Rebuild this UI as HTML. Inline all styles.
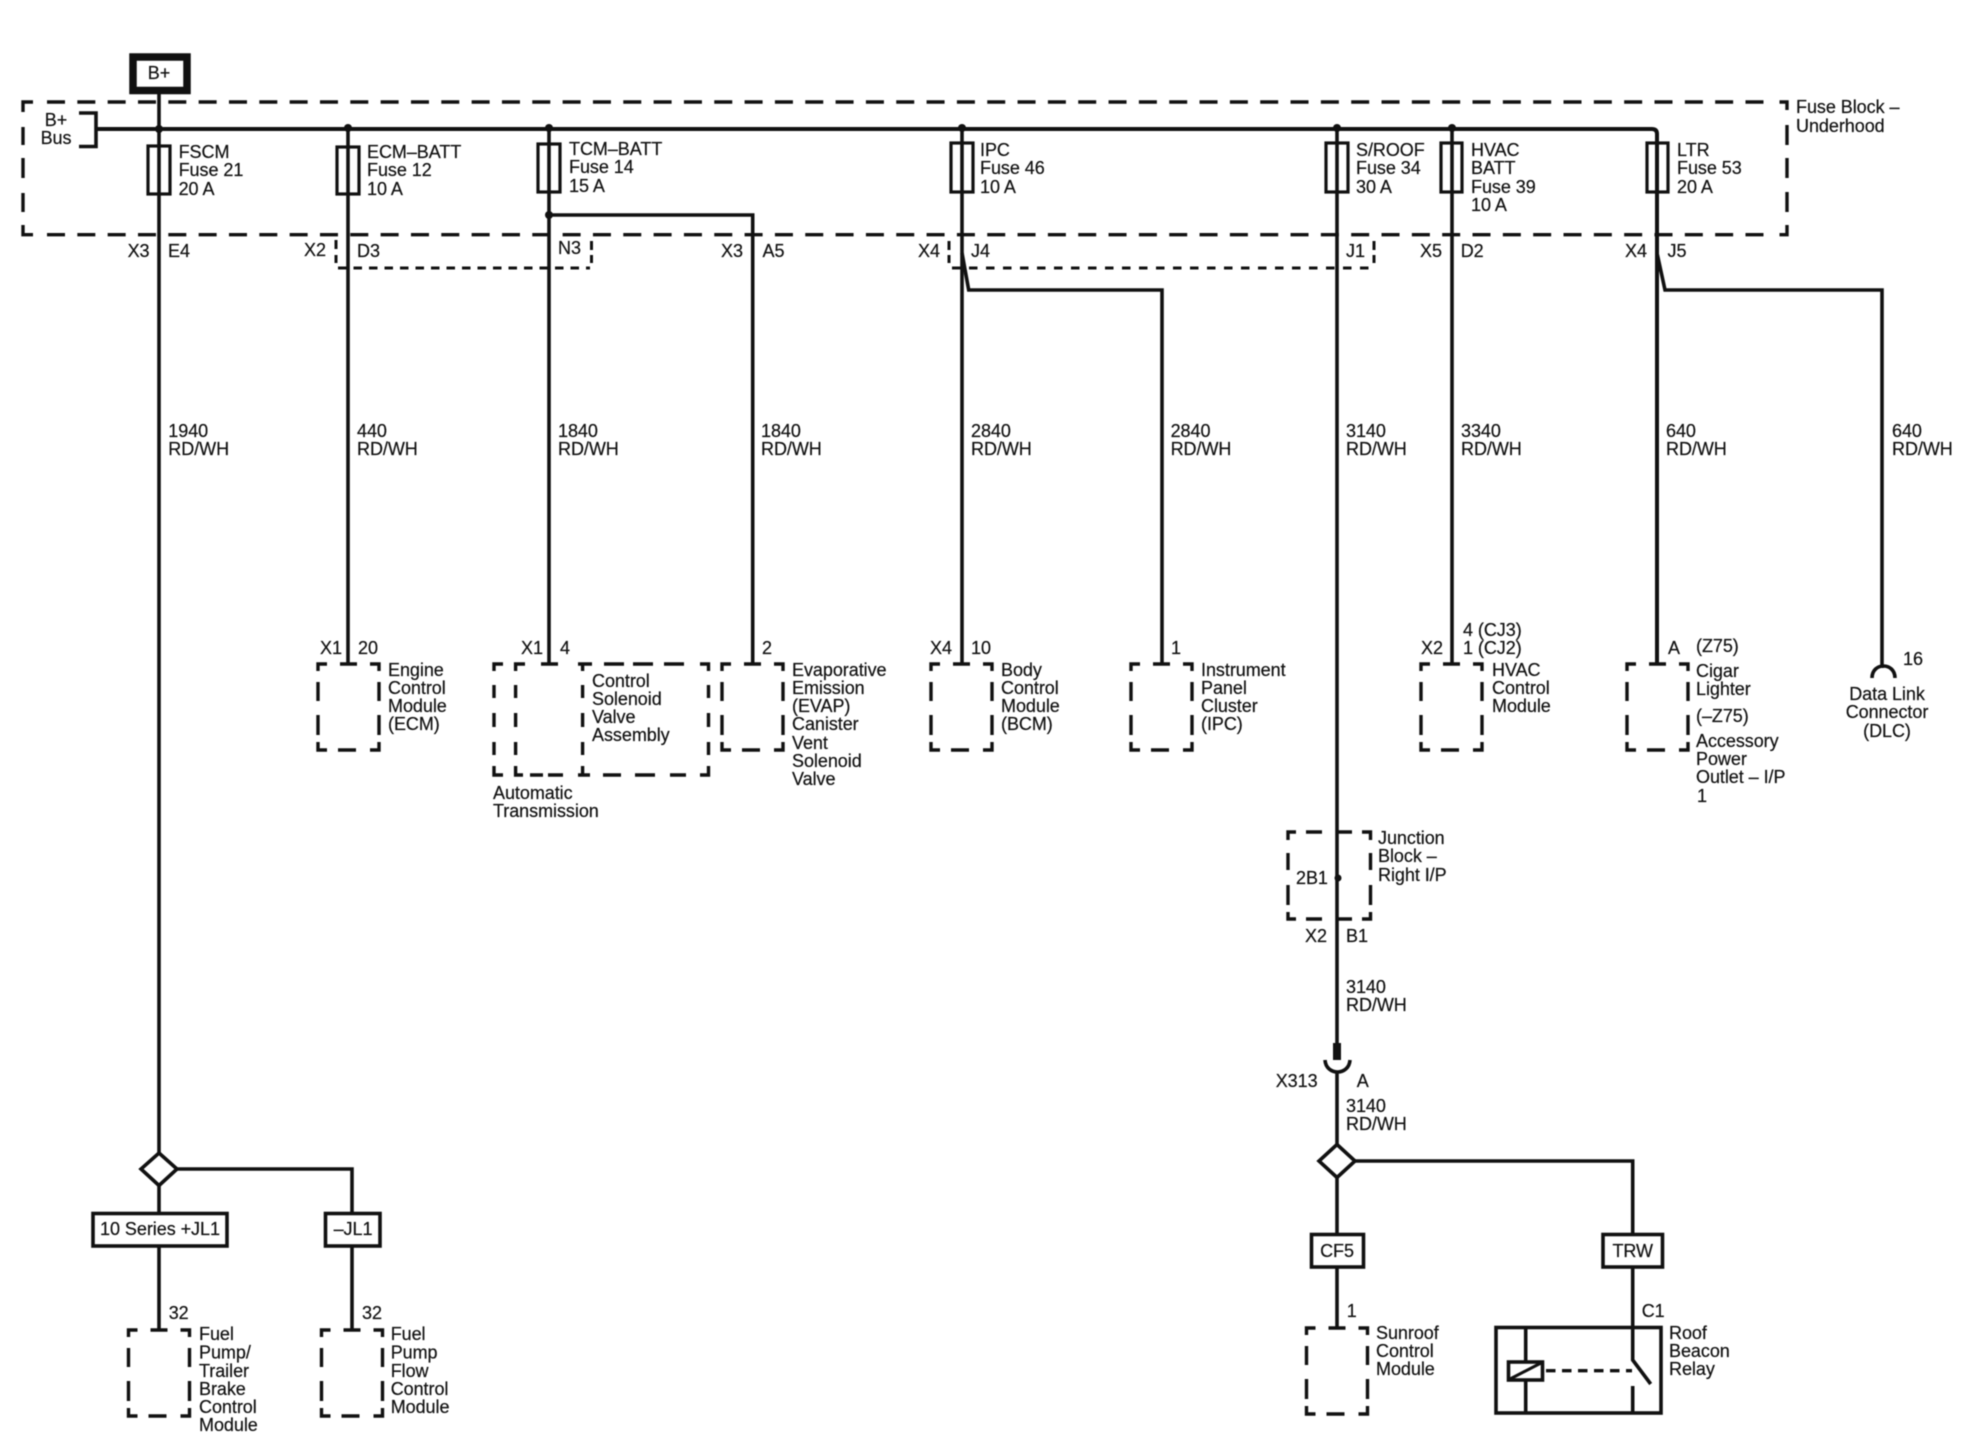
<!DOCTYPE html>
<html>
<head>
<meta charset="utf-8">
<style>
html,body{margin:0;padding:0;background:#fff;width:1970px;height:1446px;overflow:hidden}
svg{display:block;filter:blur(0.6px)}
text{font-family:"Liberation Sans",Arial,sans-serif;font-size:18px;fill:#111;stroke:#111;stroke-width:0.2px;letter-spacing:-0.05px}
.w{fill:none;stroke:#111;stroke-width:3.6}
.t{fill:none;stroke:#111;stroke-width:3}
.d{fill:none;stroke:#111;stroke-width:3.4}
.s{fill:none;stroke:#111;stroke-width:3}
.f{fill:none;stroke:#111;stroke-width:3.2}
</style>
</head>
<body>
<svg width="1970" height="1446" viewBox="0 0 1970 1446" xmlns="http://www.w3.org/2000/svg">
<defs>
<g id="box">
<path class="d" d="M1,8V1H10M53,1H62V8M1,79V87H10M53,87H62V79M21,87H39M1,19V38M1,52V72M62,19V38M62,52V72M23,1H40"/>
</g>
</defs>

<!-- B+ box -->
<rect x="133" y="57" width="54" height="33.5" fill="none" stroke="#111" stroke-width="7.5"/>
<text x="159" y="79" text-anchor="middle">B+</text>

<!-- Fuse block dashed -->
<path class="d" d="M23,112V102H33M1779.5,102H1787V110M23,225V234.7H33M1779.5,234.7H1787V225"/>
<path class="d" stroke-dasharray="18 12.33" d="M47,102H1775"/>
<path class="d" stroke-dasharray="18 12.33" d="M47,234.7H1775"/>
<path class="d" d="M23,127V145M23,158V178M23,193V212M1787,125V145M1787,158V178M1787,192V212"/>

<!-- B+ Bus bracket -->
<path class="w" d="M79,113H96V146.5H79"/>
<text x="56" y="126" text-anchor="middle">B+</text>
<text x="56" y="144" text-anchor="middle">Bus</text>

<!-- Bus + main wires -->
<path d="M96,129H1652Q1657,129 1657,134V663" fill="none" stroke="#111" stroke-width="4"/>
<path class="w" d="M159,94V1153"/>
<path class="w" d="M348,129V663"/>
<path class="w" d="M549,129V663"/>
<path class="w" d="M962,129V663"/>
<path class="w" d="M1337,129V1043"/>
<path class="w" d="M1452,129V663"/>
<g fill="#111">
<circle cx="159" cy="129" r="4"/><circle cx="348" cy="128" r="4"/><circle cx="549" cy="128" r="4"/>
<circle cx="962" cy="128" r="4"/><circle cx="1337" cy="128" r="4"/><circle cx="1452" cy="128" r="4"/>
<circle cx="549" cy="215" r="4"/>
</g>

<!-- Branches -->
<path class="w" d="M549,215H752.7V663"/>
<path class="w" d="M962,253L968.7,290H1162V663"/>
<path class="w" d="M1657,253L1665,290H1882V668"/>

<!-- Fuses -->
<rect class="f" x="148" y="146" width="22" height="48"/>
<rect class="f" x="337" y="147" width="22" height="47"/>
<rect class="f" x="538" y="144" width="22" height="48"/>
<rect class="f" x="951" y="143" width="22" height="49"/>
<rect class="f" x="1326" y="143" width="22" height="49"/>
<rect class="f" x="1441" y="143" width="21" height="49"/>
<rect class="f" x="1647" y="143" width="21" height="49"/>

<!-- Fuse labels -->
<text x="178.6" y="158">FSCM</text><text x="178.6" y="176">Fuse 21</text><text x="178.6" y="195">20 A</text>
<text x="367" y="158">ECM–BATT</text><text x="367" y="176">Fuse 12</text><text x="367" y="195">10 A</text>
<text x="569" y="155">TCM–BATT</text><text x="569" y="173">Fuse 14</text><text x="569" y="192">15 A</text>
<text x="980" y="156">IPC</text><text x="980" y="174">Fuse 46</text><text x="980" y="193">10 A</text>
<text x="1356" y="156">S/ROOF</text><text x="1356" y="174">Fuse 34</text><text x="1356" y="193">30 A</text>
<text x="1471" y="156">HVAC</text><text x="1471" y="174">BATT</text><text x="1471" y="193">Fuse 39</text><text x="1471" y="211">10 A</text>
<text x="1677" y="156">LTR</text><text x="1677" y="174">Fuse 53</text><text x="1677" y="193">20 A</text>
<text x="1796" y="113">Fuse Block –</text><text x="1796" y="132">Underhood</text>

<!-- Small dashed connectors -->
<path class="s" d="M336,240V249M336,255V263"/>
<path class="s" stroke-dasharray="8.5 7" d="M338,268H590"/>
<path class="s" d="M591.5,241V250M591.5,255V263"/>
<path class="s" d="M949,241V250M949,255V263"/>
<path class="s" stroke-dasharray="8.5 8.5" d="M952,268H1373"/>
<path class="s" d="M1374,241V250M1374,255V263"/>

<!-- Connector labels -->
<text x="127.6" y="257">X3</text><text x="168" y="257">E4</text>
<text x="304" y="256">X2</text><text x="357" y="257">D3</text>
<text x="558" y="254">N3</text>
<text x="721" y="257">X3</text><text x="762.5" y="257">A5</text>
<text x="918" y="257">X4</text><text x="971" y="257">J4</text>
<text x="1346" y="257">J1</text>
<text x="1420" y="257">X5</text><text x="1460.7" y="257">D2</text>
<text x="1625" y="257">X4</text><text x="1667.5" y="257">J5</text>

<!-- Wire labels -->
<text x="168.3" y="437">1940</text><text x="168.3" y="455">RD/WH</text>
<text x="357" y="437">440</text><text x="357" y="455">RD/WH</text>
<text x="558" y="437">1840</text><text x="558" y="455">RD/WH</text>
<text x="761" y="437">1840</text><text x="761" y="455">RD/WH</text>
<text x="971" y="437">2840</text><text x="971" y="455">RD/WH</text>
<text x="1170.6" y="437">2840</text><text x="1170.6" y="455">RD/WH</text>
<text x="1346" y="437">3140</text><text x="1346" y="455">RD/WH</text>
<text x="1461" y="437">3340</text><text x="1461" y="455">RD/WH</text>
<text x="1666" y="437">640</text><text x="1666" y="455">RD/WH</text>
<text x="1892" y="437">640</text><text x="1892" y="455">RD/WH</text>

<!-- Component boxes -->
<use href="#box" x="317" y="663"/>
<use href="#box" x="721" y="663"/>
<use href="#box" x="930" y="663"/>
<use href="#box" x="1130" y="663"/>
<use href="#box" x="1420" y="663"/>
<use href="#box" x="1626" y="663"/>

<!-- Automatic transmission box -->
<path class="d" d="M494,671V664H503M515.6,671V664H525M541,664H558M578,664H592M582.6,664V671M604,664H624M633,664H653M664,664H684M700,664H708.5V671"/>
<path class="d" d="M494,685V698M494,713V727M494,742V755M494,766V775H503M515.6,685V698M515.6,713V727M515.6,742V755M515.6,766V775H523M530,775H543M548,775H563M578,775H590M582.6,685V698M582.6,713V727M582.6,742V755M582.6,766V775M603,775H621M635,775H655M670,775H686M700,775H708.5V766M708.5,685V698M708.5,713V727M708.5,742V755"/>

<!-- Component labels -->
<text x="320" y="654">X1</text><text x="358" y="654">20</text>
<text x="388" y="676">Engine</text><text x="388" y="694">Control</text><text x="388" y="712">Module</text><text x="388" y="730">(ECM)</text>
<text x="521" y="654">X1</text><text x="560" y="654">4</text>
<text x="592" y="687">Control</text><text x="592" y="705">Solenoid</text><text x="592" y="723">Valve</text><text x="592" y="741">Assembly</text>
<text x="493" y="799">Automatic</text><text x="493" y="817">Transmission</text>
<text x="762" y="654">2</text>
<text x="792" y="676">Evaporative</text><text x="792" y="694">Emission</text><text x="792" y="712">(EVAP)</text><text x="792" y="730">Canister</text><text x="792" y="749">Vent</text><text x="792" y="767">Solenoid</text><text x="792" y="785">Valve</text>
<text x="930" y="654">X4</text><text x="971" y="654">10</text>
<text x="1001" y="676">Body</text><text x="1001" y="694">Control</text><text x="1001" y="712">Module</text><text x="1001" y="730">(BCM)</text>
<text x="1171" y="654">1</text>
<text x="1201" y="676">Instrument</text><text x="1201" y="694">Panel</text><text x="1201" y="712">Cluster</text><text x="1201" y="730">(IPC)</text>
<text x="1463" y="636">4 (CJ3)</text><text x="1421" y="654">X2</text><text x="1463" y="654">1 (CJ2)</text>
<text x="1492" y="676">HVAC</text><text x="1492" y="694">Control</text><text x="1492" y="712">Module</text>
<text x="1668" y="654">A</text><text x="1696" y="652">(Z75)</text>
<text x="1696" y="677">Cigar</text><text x="1696" y="695">Lighter</text>
<text x="1696" y="722">(–Z75)</text>
<text x="1696" y="747">Accessory</text><text x="1696" y="765">Power</text><text x="1696" y="783">Outlet – I/P</text><text x="1697" y="802">1</text>

<!-- DLC -->
<path class="w" d="M1872,678C1872,662 1895,662 1895,678"/>
<text x="1903" y="665">16</text>
<text x="1887" y="700" text-anchor="middle">Data Link</text><text x="1887" y="718" text-anchor="middle">Connector</text><text x="1887" y="737" text-anchor="middle">(DLC)</text>

<!-- Junction block -->
<path class="d" d="M1288,840V832H1296M1306,832H1322M1336,832H1352M1362,832H1370.5V840M1288,853V870M1288,885V905M1288,912V919H1296M1306,919H1322M1336,919H1352M1362,919H1370.5V912M1370.5,853V870M1370.5,885V905"/>
<circle cx="1338" cy="878" r="3.5" fill="#111"/>
<text x="1296" y="884">2B1</text>
<text x="1378" y="844">Junction</text><text x="1378" y="862">Block –</text><text x="1378" y="881">Right I/P</text>
<text x="1305" y="942">X2</text><text x="1346" y="942">B1</text>
<text x="1346" y="993">3140</text><text x="1346" y="1011">RD/WH</text>

<!-- X313 connector -->
<rect x="1333" y="1043" width="8" height="17" fill="#111"/>
<path class="w" d="M1325,1060C1326,1076 1349,1076 1350,1060"/>
<path class="w" d="M1337,1072V1144"/>
<text x="1275.7" y="1087">X313</text><text x="1356.7" y="1087">A</text>
<text x="1346" y="1112">3140</text><text x="1346" y="1130">RD/WH</text>

<!-- Right diamond -->
<path d="M1337,1144.5L1355,1161L1337,1177.5L1319,1161Z" fill="#fff" stroke="#111" stroke-width="3.6"/>
<path class="w" d="M1355,1161H1632.7V1234"/>
<path class="w" d="M1337,1177V1234"/>
<rect x="1311.5" y="1234.5" width="52" height="32.5" fill="#fff" stroke="#111" stroke-width="3.6"/>
<text x="1337" y="1257" text-anchor="middle">CF5</text>
<rect x="1603" y="1234.5" width="59.5" height="32.5" fill="#fff" stroke="#111" stroke-width="3.6"/>
<text x="1632.7" y="1257" text-anchor="middle">TRW</text>
<path class="w" d="M1337,1267V1328"/>
<path class="w" d="M1632.7,1267V1360L1650.7,1384"/>
<text x="1346.7" y="1317">1</text><text x="1641.7" y="1317">C1</text>

<!-- Sunroof -->
<use href="#box" x="1305.5" y="1327"/>
<text x="1376" y="1339">Sunroof</text><text x="1376" y="1357">Control</text><text x="1376" y="1375">Module</text>

<!-- Relay -->
<rect x="1496" y="1327.5" width="165" height="85.5" fill="none" stroke="#111" stroke-width="3.6"/>
<path class="w" d="M1525.7,1327V1413"/>
<rect x="1508.5" y="1362" width="34" height="18" fill="#fff" stroke="#111" stroke-width="3.6"/>
<path class="t" d="M1510,1379L1541,1363"/>
<path class="d" stroke-dasharray="9.5 6.5" d="M1546,1370.7H1632"/>
<path class="w" d="M1632.7,1386V1413"/>
<text x="1669" y="1339">Roof</text><text x="1669" y="1357">Beacon</text><text x="1669" y="1375">Relay</text>

<!-- Left diamond -->
<path d="M159,1153L177,1169L159,1185.5L141,1169Z" fill="#fff" stroke="#111" stroke-width="3.6"/>
<path class="w" d="M177,1169H352V1213"/>
<path class="w" d="M159,1185V1213"/>
<rect x="93" y="1213.5" width="134" height="32.5" fill="#fff" stroke="#111" stroke-width="3.6"/>
<text x="160" y="1235" text-anchor="middle">10 Series +JL1</text>
<rect x="325.5" y="1213.5" width="54.5" height="32.5" fill="#fff" stroke="#111" stroke-width="3.6"/>
<text x="353" y="1235" text-anchor="middle">–JL1</text>
<path class="w" d="M159,1246V1329"/>
<path class="w" d="M352,1246V1329"/>
<text x="168.7" y="1319">32</text><text x="362" y="1319">32</text>
<use href="#box" x="127.5" y="1329"/>
<use href="#box" x="320.5" y="1329"/>
<text x="199" y="1340">Fuel</text><text x="199" y="1358.7">Pump/</text><text x="199" y="1377">Trailer</text><text x="199" y="1395">Brake</text><text x="199" y="1413">Control</text><text x="199" y="1431">Module</text>
<text x="390.7" y="1340">Fuel</text><text x="390.7" y="1358.7">Pump</text><text x="390.7" y="1377">Flow</text><text x="390.7" y="1395">Control</text><text x="390.7" y="1413">Module</text>
</svg>
</body>
</html>
